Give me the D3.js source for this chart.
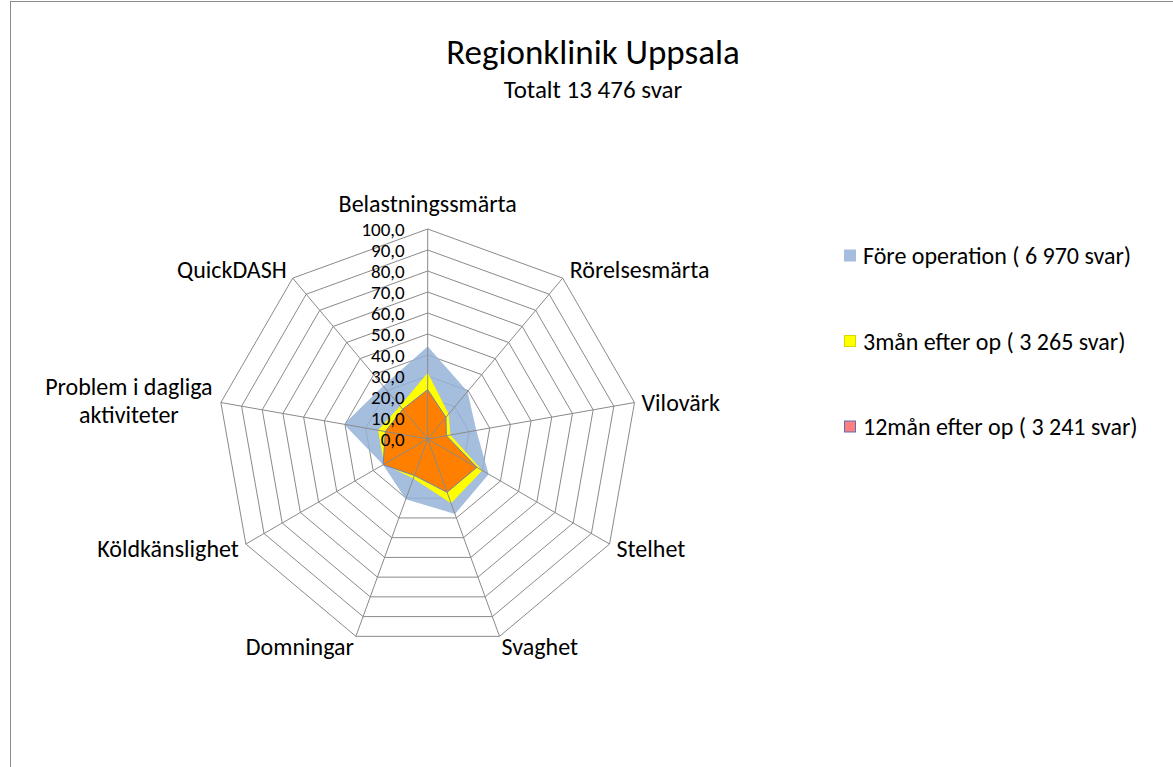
<!DOCTYPE html>
<html lang="sv">
<head>
<meta charset="utf-8">
<title>Regionklinik Uppsala</title>
<script src="https://d3js.org/d3.v7.min.js"></script>
<style>
  body { margin: 0; background: #fff; }
  svg text { font-family: Calibri, Carlito, Lato, sans-serif; fill: #000; }
</style>
</head>
<body>
<div id="chart"></div>
<script>
// categories, clockwise from the top
const categories = ["Belastningssmärta", "Rörelsesmärta", "Vilovärk", "Stelhet", "Svaghet",
  "Domningar", "Köldkänslighet", "Problem i dagliga aktiviteter", "QuickDASH"];
const seriesNames = ["Före operation ( 6 970 svar)", "3mån efter op ( 3 265 svar)", "12mån efter op ( 3 241 svar)"];
const fore = [44, 29.5, 23.5, 33.5, 38, 30.5, 24.5, 40.5, 33];
const tre = [31.5, 15.5, 11, 30, 32.5, 20, 24, 24, 20.5];
const tolv = [23.5, 13.5, 9, 27, 27, 18.5, 24.5, 20.5, 18.5];
const tickValues = [0, 10, 20, 30, 40, 50, 60, 70, 80, 90, 100];

const W = 1173, H = 767;
const cx = 427.7, cy = 439, R = 210;

const svg = d3.select("#chart").append("svg")
  .attr("width", W).attr("height", H);

// chart frame
svg.append("rect")
  .attr("x", 10.5).attr("y", 1.5)
  .attr("width", W + 20).attr("height", H + 20)
  .attr("fill", "none").attr("stroke", "#8c8c8c").attr("stroke-width", 1);

svg.append("text").attr("x", 593).attr("y", 64)
  .attr("text-anchor", "middle").style("font-size", "35px")
  .text("Regionklinik Uppsala");
svg.append("text").attr("x", 593).attr("y", 98)
  .attr("text-anchor", "middle").style("font-size", "25px")
  .text("Totalt 13 476 svar");

const r = d3.scaleLinear().domain([0, 100]).range([0, R]);
const angle = d3.scaleLinear().domain([0, categories.length]).range([0, 2 * Math.PI]);

const g = svg.append("g").attr("transform", `translate(${cx},${cy})`);

const ring = d3.lineRadial()
  .angle((d, i) => angle(i))
  .radius(d => r(d))
  .curve(d3.curveLinearClosed);

// rings
g.append("g").selectAll("path")
  .data(tickValues.slice(1))
  .join("path")
  .attr("d", v => ring(categories.map(() => v)))
  .attr("fill", "none").attr("stroke", "#8a8a8a").attr("stroke-width", 1);

// series
const series = [
  { name: seriesNames[0], values: fore, fill: "#95b3d7", opacity: 0.85, stroke: "none", key: "#a5bedd", keyStroke: "#a5bedd" },
  { name: seriesNames[1], values: tre, fill: "#ffff00", opacity: 1, stroke: "none", key: "#ffff00", keyStroke: "#d8d800" },
  { name: seriesNames[2], values: tolv, fill: "#ff8000", opacity: 1, stroke: "#6f7fb8", key: "#ff7f7f", keyStroke: "#5a6db5" }
];

g.append("g").selectAll("path")
  .data(series)
  .join("path")
  .attr("d", s => ring(s.values))
  .attr("fill", s => s.fill)
  .attr("fill-opacity", s => s.opacity)
  .attr("stroke", s => s.stroke)
  .attr("stroke-width", 1);

// spokes
g.append("g").selectAll("line")
  .data(categories)
  .join("line")
  .attr("x1", 0).attr("y1", 0)
  .attr("x2", (d, i) => r(100) * Math.sin(angle(i)))
  .attr("y2", (d, i) => -r(100) * Math.cos(angle(i)))
  .attr("stroke", "#8a8a8a").attr("stroke-width", 1);

// tick labels
const fmt = v => d3.format(".1f")(v).replace(".", ",");
g.append("g").selectAll("text")
  .data(tickValues)
  .join("text")
  .attr("x", -23)
  .attr("y", v => -r(v))
  .attr("dy", "0.36em")
  .attr("text-anchor", "end")
  .style("font-size", "19px")
  .text(fmt);

// category labels: offset from the outer vertex to the text baseline
const labelPos = [
  { dx: 0, dy: -17, anchor: "middle" },
  { dx: 7, dy: 0, anchor: "start" },
  { dx: 7, dy: 8, anchor: "start" },
  { dx: 7, dy: 13, anchor: "start" },
  { dx: 2, dy: 19, anchor: "start" },
  { dx: -2, dy: 19, anchor: "end" },
  { dx: -7, dy: 13, anchor: "end" },
  { dx: -92, dy: -8, anchor: "middle" },
  { dx: -6, dy: 0, anchor: "end" }
];
const lab = g.append("g").selectAll("text")
  .data(categories)
  .join("text")
  .attr("x", (d, i) => r(100) * Math.sin(angle(i)) + labelPos[i].dx)
  .attr("y", (d, i) => -r(100) * Math.cos(angle(i)) + labelPos[i].dy)
  .attr("text-anchor", (d, i) => labelPos[i].anchor)
  .style("font-size", "24px");
lab.each(function (d) {
  const t = d3.select(this);
  if (d === "Problem i dagliga aktiviteter") {
    t.append("tspan").attr("x", t.attr("x")).text("Problem i dagliga");
    t.append("tspan").attr("x", t.attr("x")).attr("dy", 28).text("aktiviteter");
  } else {
    t.text(d);
  }
});

// legend
const leg = svg.append("g").selectAll("g")
  .data(series)
  .join("g")
  .attr("transform", (d, i) => `translate(844,${255.5 + i * 85.5})`);
leg.append("rect")
  .attr("x", 0.5).attr("y", -5.5).attr("width", 11).attr("height", 11)
  .attr("fill", d => d.key).attr("stroke", d => d.keyStroke);
leg.append("text")
  .attr("x", 19).attr("y", 0).attr("dy", "0.36em")
  .style("font-size", "24px")
  .text(d => d.name);
</script>
</body>
</html>
